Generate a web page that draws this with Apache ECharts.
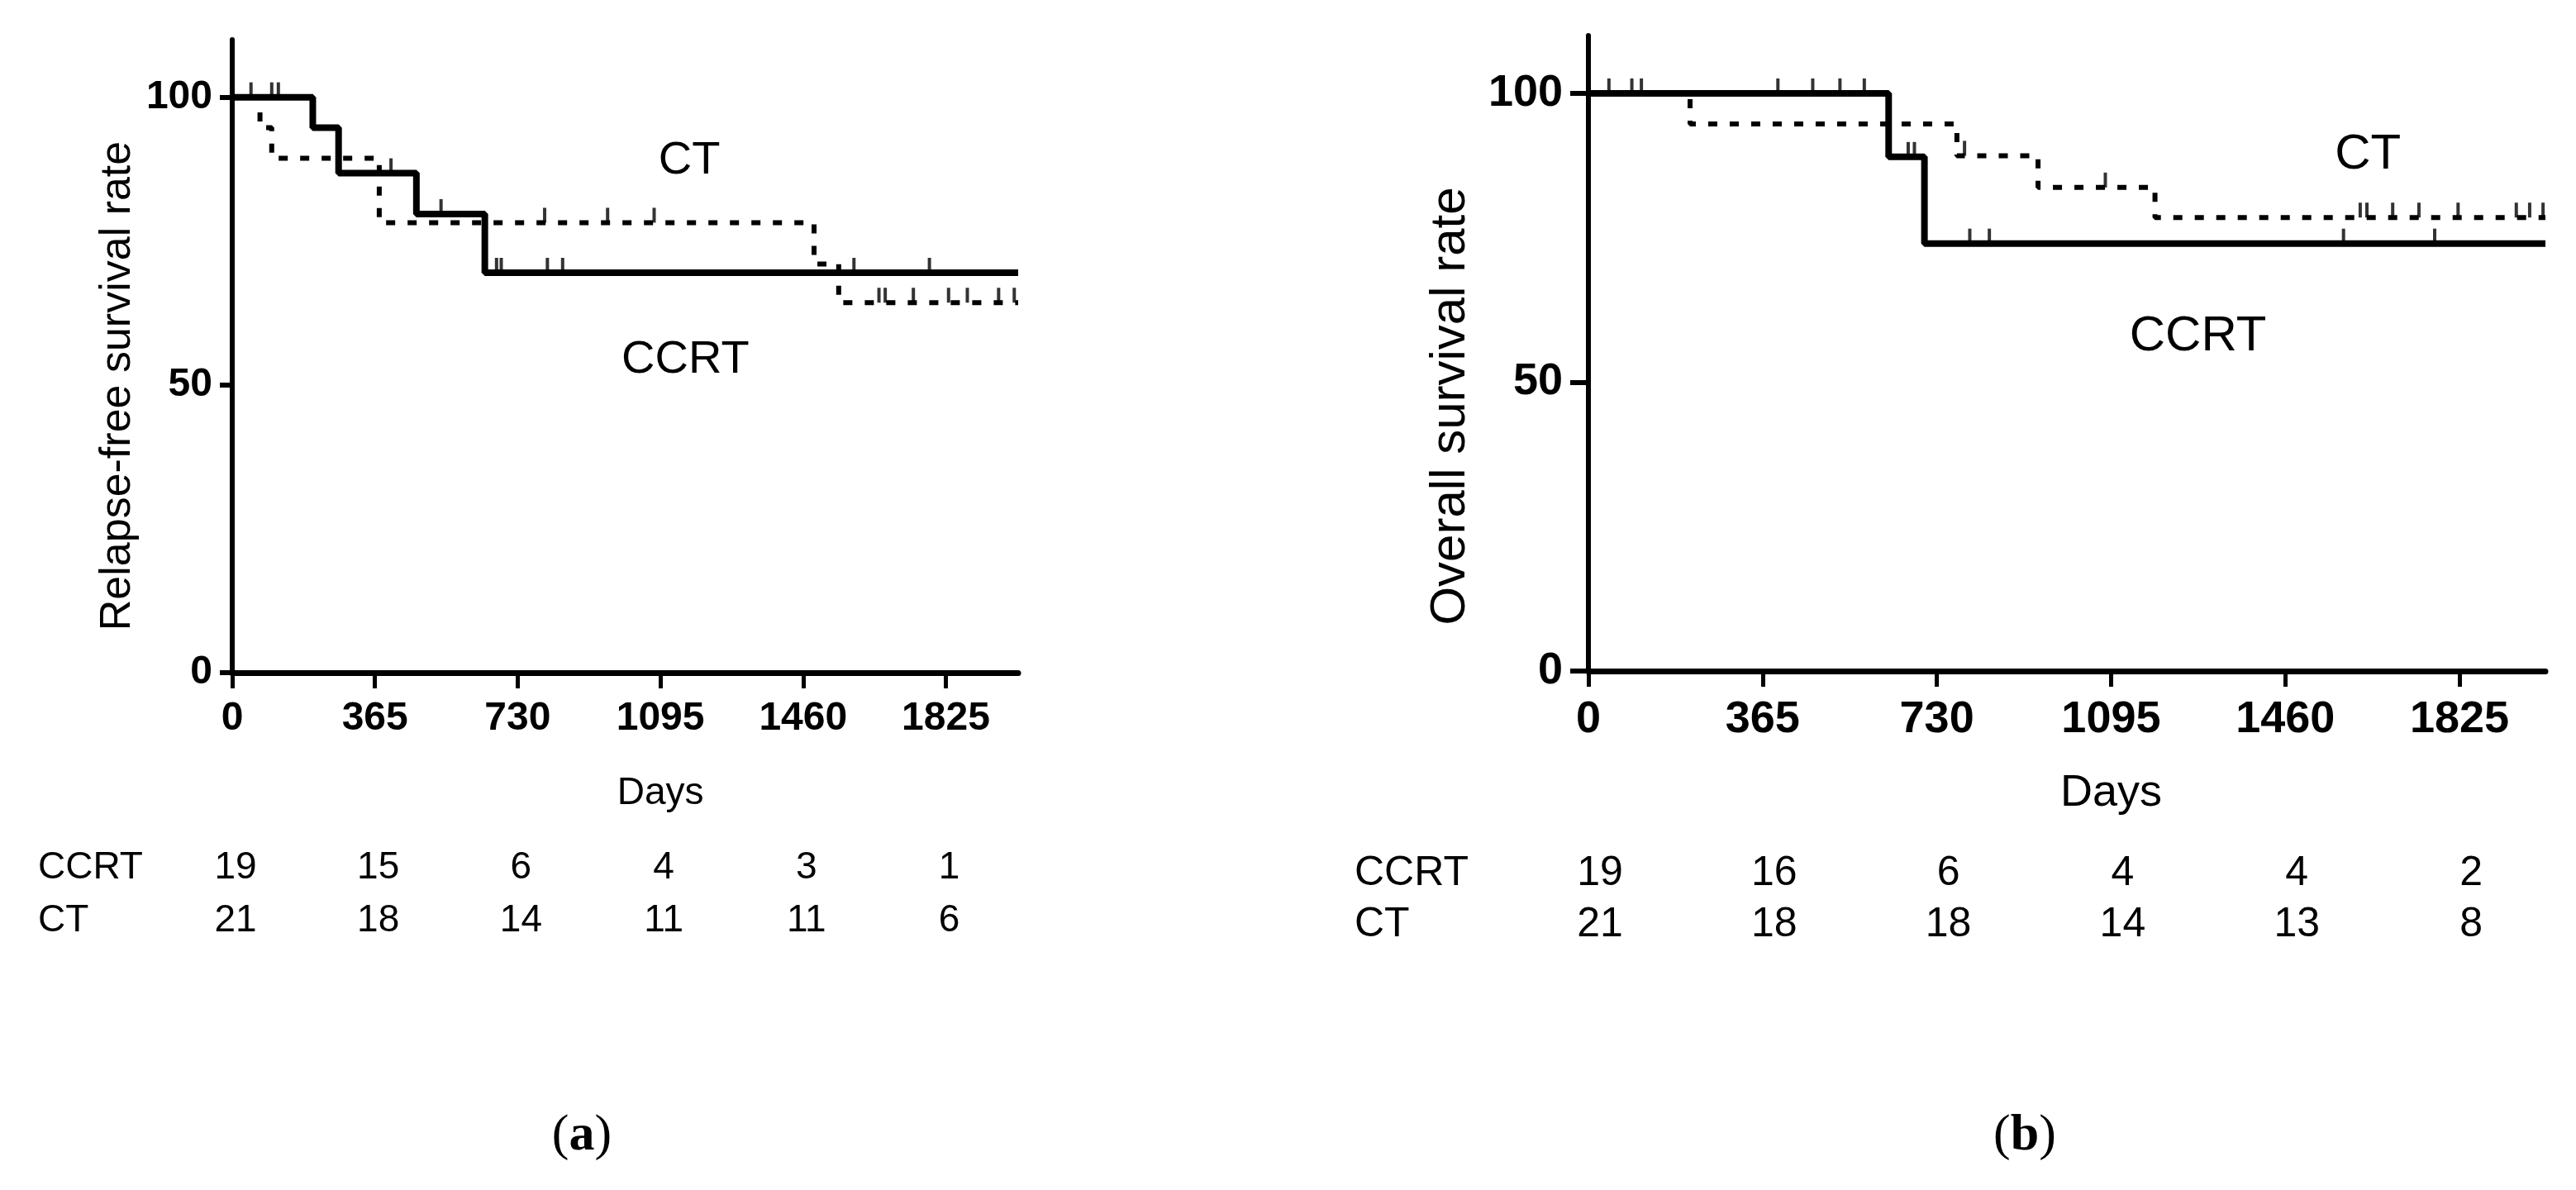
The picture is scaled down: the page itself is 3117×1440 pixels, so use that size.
<!DOCTYPE html>
<html><head><meta charset="utf-8">
<script src="https://cdn.jsdelivr.net/npm/echarts@6/dist/echarts.min.js"></script>
<style>html,body{margin:0;padding:0;background:#fff}#c{width:3117px;height:1440px}</style>
</head><body><div id="c"></div>
<script>
// ---- shared ----
const dayTicks = [0, 365, 730, 1095, 1460, 1825];
const rateTicks = [0, 50, 100];
const groupNames = ['CCRT', 'CT'];

// ---- panel (a) relapse-free survival ----
const aCcrtDays = [0, 206, 272, 471, 646, 2010];
const aCcrtRate = [100, 94.7, 86.8, 79.7, 69.5, 69.5];
const aCtDays = [0, 71, 101, 376, 1488, 1551, 2010];
const aCtRate = [100, 94.7, 89.4, 78.2, 71.0, 64.3, 64.3];
const aCcrtCensDays = [101, 118, 406, 534, 676, 688, 806, 845, 1590, 1783];
const aCcrtCensRate = [100, 100, 86.8, 79.7, 69.5, 69.5, 69.5, 69.5, 69.5, 69.5];
const aCtCensDays = [48, 799, 960, 1079, 1654, 1670, 1742, 1832, 1880, 1960, 2000];
const aCtCensRate = [100, 78.2, 78.2, 78.2, 64.3, 64.3, 64.3, 64.3, 64.3, 64.3, 64.3];
const aRiskCcrt = [19, 15, 6, 4, 3, 1];
const aRiskCt = [21, 18, 14, 11, 11, 6];

// ---- panel (b) overall survival ----
const bCcrtDays = [0, 629, 704, 2005];
const bCcrtRate = [100, 89.0, 74.0, 74.0];
const bCtDays = [0, 213, 772, 942, 1187, 2005];
const bCtRate = [100, 94.7, 89.2, 83.7, 78.5, 78.5];
const bCcrtCensDays = [43, 91, 111, 397, 470, 527, 578, 670, 683, 799, 840, 1582, 1773];
const bCcrtCensRate = [100, 100, 100, 100, 100, 100, 100, 89.0, 89.0, 74.0, 74.0, 74.0, 74.0];
const bCtCensDays = [788, 1083, 1617, 1631, 1685, 1740, 1822, 1944, 1972, 2000];
const bCtCensRate = [89.2, 83.7, 78.5, 78.5, 78.5, 78.5, 78.5, 78.5, 78.5, 78.5];
const bRiskCcrt = [19, 16, 6, 4, 4, 2];
const bRiskCt = [21, 18, 18, 14, 13, 8];

const FONT = "'Liberation Sans', Arial, sans-serif";
const zip = (xs, ys) => xs.map((x, i) => [x, ys[i]]);

function xAxisCfg(gi, max, fs) {
  return {
    type: 'value', gridIndex: gi, min: 0, max: max, interval: 365,
    axisLine: { show: true, onZero: false, lineStyle: { color: '#000', width: 7 } },
    axisTick: { show: true, length: 19, customValues: dayTicks, lineStyle: { color: '#000', width: 5 } },
    axisLabel: { show: true, customValues: dayTicks, margin: 32, color: '#000', fontFamily: FONT, fontWeight: 'bold', fontSize: fs,
      formatter: v => String(v) },
    splitLine: { show: false }
  };
}
function yAxisCfg(gi, name, fs, nfs, gap, tickLen, shift) {
  return {
    type: 'value', gridIndex: gi, min: 0, max: 110, interval: 50,
    name: name, nameLocation: 'middle', nameRotate: 90, nameGap: gap,
    nameTextStyle: { color: '#000', fontFamily: FONT, fontSize: nfs, padding: [0, shift, 0, 0] },
    axisLine: { show: true, onZero: false, lineStyle: { color: '#000', width: 6 } },
    axisTick: { show: true, length: tickLen, customValues: rateTicks, lineStyle: { color: '#000', width: 6 } },
    axisLabel: { show: true, customValues: rateTicks, margin: tickLen + 9, color: '#000', fontFamily: FONT, fontWeight: 'bold', fontSize: fs,
      formatter: v => String(v) },
    splitLine: { show: false }
  };
}
function curve(gi, data, dashed, w) {
  return {
    type: 'line', xAxisIndex: gi, yAxisIndex: gi, step: 'end', data: data,
    showSymbol: false, symbol: 'none', animation: false, silent: true,
    lineStyle: { color: '#000', width: w, type: dashed ? [11, 15] : 'solid', cap: 'butt' }
  };
}
function cens(gi, data) {
  return {
    type: 'scatter', xAxisIndex: gi, yAxisIndex: gi, data: data, animation: false, silent: true,
    symbol: 'rect', symbolSize: [4, 18], symbolOffset: [0, -9],
    itemStyle: { color: '#000' }, z: 3
  };
}

const chart = echarts.init(document.getElementById('c'), null, { renderer: 'canvas' });
chart.setOption({
  backgroundColor: '#fff',
  animation: false,
  grid: [
    { left: 281, top: 48, width: 951, height: 766 },
    { left: 1922, top: 43, width: 1158, height: 769 }
  ],
  xAxis: [xAxisCfg(0, 2010, 48), xAxisCfg(1, 2005, 54)],
  yAxis: [
    yAxisCfg(0, 'Relapse-free survival rate', 48, 52, 112, 15, 72),
    yAxisCfg(1, 'Overall survival rate', 54, 60, 137, 22, 128)
  ],
  series: [
    curve(0, zip(aCtDays, aCtRate), true, 6),
    curve(0, zip(aCcrtDays, aCcrtRate), false, 8),
    cens(0, zip(aCcrtCensDays, aCcrtCensRate)),
    cens(0, zip(aCtCensDays, aCtCensRate)),
    curve(1, zip(bCtDays, bCtRate), true, 6),
    curve(1, zip(bCcrtDays, bCcrtRate), false, 8),
    cens(1, zip(bCcrtCensDays, bCcrtCensRate)),
    cens(1, zip(bCtCensDays, bCtCensRate))
  ]
});

function px(gi, x, y) { return chart.convertToPixel({ xAxisIndex: gi, yAxisIndex: gi }, [x, y]); }
function txt(x, y, s, fs, opt) {
  return {
    type: 'text', x: x, y: y, silent: true,
    style: Object.assign({ text: s, fill: '#000', font: 'normal ' + fs + 'px ' + FONT, textAlign: 'center', textVerticalAlign: 'middle' }, opt || {})
  };
}
const g = [];
const panels = [
  { gi: 0, ccrt: aRiskCcrt, ct: aRiskCt, fs: 46, dayFs: 46, dayY: 960, rowY: [1050, 1114], labX: 46, labFs: 56, numDx: 4,
    ctPos: [1169, 88.9], ccrtPos: [1159, 54.3] },
  { gi: 1, ccrt: bRiskCcrt, ct: bRiskCt, fs: 50, dayFs: 54, dayY: 960, rowY: [1057, 1119], labX: 1639, labFs: 60, numDx: 14,
    ctPos: [1633, 89.3], ccrtPos: [1277, 57.8] }
];
panels.forEach(p => {
  const dx = px(p.gi, 1095, 0)[0];
  g.push(txt(dx, p.dayY, 'Days', p.dayFs));
  g.push(txt(p.labX, p.rowY[0], groupNames[0], p.fs, { textAlign: 'left' }));
  g.push(txt(p.labX, p.rowY[1], groupNames[1], p.fs, { textAlign: 'left' }));
  dayTicks.forEach((d, i) => {
    const x = px(p.gi, d, 0)[0] + p.numDx;
    g.push(txt(x, p.rowY[0], String(p.ccrt[i]), p.fs));
    g.push(txt(x, p.rowY[1], String(p.ct[i]), p.fs));
  });
  const c1 = px(p.gi, p.ctPos[0], p.ctPos[1]);
  g.push(txt(c1[0], c1[1], groupNames[1], p.labFs));
  const c2 = px(p.gi, p.ccrtPos[0], p.ccrtPos[1]);
  g.push(txt(c2[0], c2[1], groupNames[0], p.labFs));
});
const capStyle = {
  rich: {
    p: { fontFamily: "'Liberation Serif', serif", fontSize: 62, fill: '#000' },
    b: { fontFamily: "'Liberation Serif', serif", fontSize: 62, fontWeight: 'bold', fill: '#000' }
  }
};
g.push({ type: 'text', x: 704, y: 1375, silent: true, style: Object.assign({ text: '{p|(}{b|a}{p|)}', textAlign: 'center', textVerticalAlign: 'middle' }, capStyle) });
g.push({ type: 'text', x: 2450, y: 1375, silent: true, style: Object.assign({ text: '{p|(}{b|b}{p|)}', textAlign: 'center', textVerticalAlign: 'middle' }, capStyle) });
chart.setOption({ graphic: g });
</script>
</body></html>
